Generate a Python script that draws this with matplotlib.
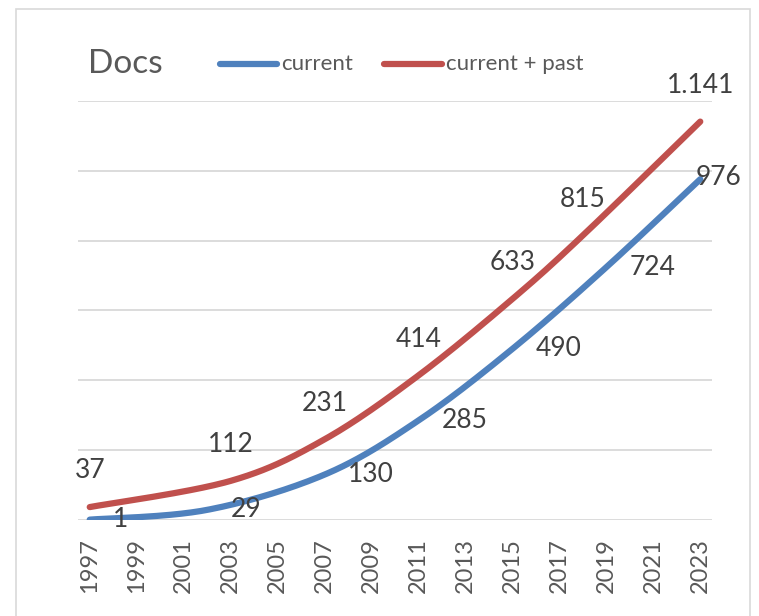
import numpy as np
import matplotlib
matplotlib.use("Agg")
from matplotlib import pyplot as plt
from matplotlib.lines import Line2D
from matplotlib.patches import Rectangle

plt.rcParams["font.family"] = ["Lato", "DejaVu Sans"]

# data (labelled points)
current_years = [1997, 2002, 2007, 2011, 2015, 2019, 2023]
current_values = [1, 29, 130, 285, 490, 724, 976]
total_years = [1997, 2003, 2007, 2011, 2015, 2018, 2023]
total_values = [37, 112, 231, 414, 633, 815, 1141]
tick_years = list(range(1997, 2024, 2))

BLUE = "#4F81BD"
RED = "#C0504D"
TEXT = "#404040"
GREY = "#595959"
GRID = "#D9D9D9"


def smooth(xs, ys, n=40):
    """Excel-style smoothed line: cubic Bezier through every point."""
    pts = np.column_stack([xs, ys]).astype(float)
    t = np.linspace(0, 1, n)[:, None]
    out = []
    for i in range(len(pts) - 1):
        p0 = pts[max(i - 1, 0)]
        p1 = pts[i]
        p2 = pts[i + 1]
        p3 = pts[min(i + 2, len(pts) - 1)]
        c1 = p1 + (p2 - p0) / 6
        c2 = p2 - (p3 - p1) / 6
        seg = ((1 - t) ** 3) * p1 + 3 * ((1 - t) ** 2) * t * c1 + 3 * (1 - t) * t ** 2 * c2 + t ** 3 * p2
        out.append(seg if i == 0 else seg[1:])
    seg = np.vstack(out)
    return seg[:, 0], seg[:, 1]


def fmt(v):
    return f"{v:,}".replace(",", ".")


fig = plt.figure(figsize=(7.59, 6.16), dpi=100)
W, H = 759, 616

# chart-area border
fig.patches.append(Rectangle((16 / W, -0.05), (750 - 16) / W, 1.05 - 9 / H,
                             transform=fig.transFigure, fill=False,
                             edgecolor=GRID, lw=1.2))

ax = fig.add_axes([78 / W, 1 - 520 / H, (712 - 78) / W, (520 - 101) / H])
ax.set_xlim(1996.5, 2023.5)
ax.set_ylim(0, 1200)
ax.set_yticks(range(0, 1201, 200))
ax.yaxis.grid(True, color=GRID, lw=1.3)
ax.set_axisbelow(True)
ax.tick_params(axis="y", length=0, labelleft=False)
ax.set_xticks(tick_years)
ax.set_xticklabels([str(y) for y in tick_years], rotation=90, fontsize=17, color=GREY)
ax.tick_params(axis="x", length=0, pad=13)
for s in ax.spines.values():
    s.set_visible(False)

bx, by = smooth(current_years, current_values)
rx, ry = smooth(total_years, total_values)
ax.plot(bx, by, color=BLUE, lw=4.5, solid_capstyle="round", zorder=3)
ax.plot(rx, ry, color=RED, lw=4.5, solid_capstyle="round", zorder=3)

# labels: red above, blue to the right
for x, v in zip(total_years, total_values):
    ax.annotate(fmt(v), (x, v), xytext=(0, 26), textcoords="offset points",
                ha="center", va="center", fontsize=19, color=TEXT, zorder=4)
blue_offsets = {2023: (-3, 1)}
for x, v in zip(current_years, current_values):
    off = blue_offsets.get(x, (17, 0))
    ax.annotate(fmt(v), (x, v), xytext=off, textcoords="offset points",
                ha="left", va="center", fontsize=19, color=TEXT, zorder=4)

# title and legend
fig.text(88 / W, 1 - 73 / H, "Docs", fontsize=24, color=GREY, ha="left", va="baseline")
for x0, x1, col, label in [(220, 277, BLUE, "current"), (384, 442, RED, "current + past")]:
    fig.lines.append(Line2D([x0 / W, x1 / W], [1 - 64 / H, 1 - 64 / H], transform=fig.transFigure,
                            color=col, lw=4.5, solid_capstyle="round"))
    fig.text((x1 + 4) / W, 1 - 64 / H, label, fontsize=16, color=GREY, ha="left", va="center")

fig.savefig("out.png", dpi=100)
